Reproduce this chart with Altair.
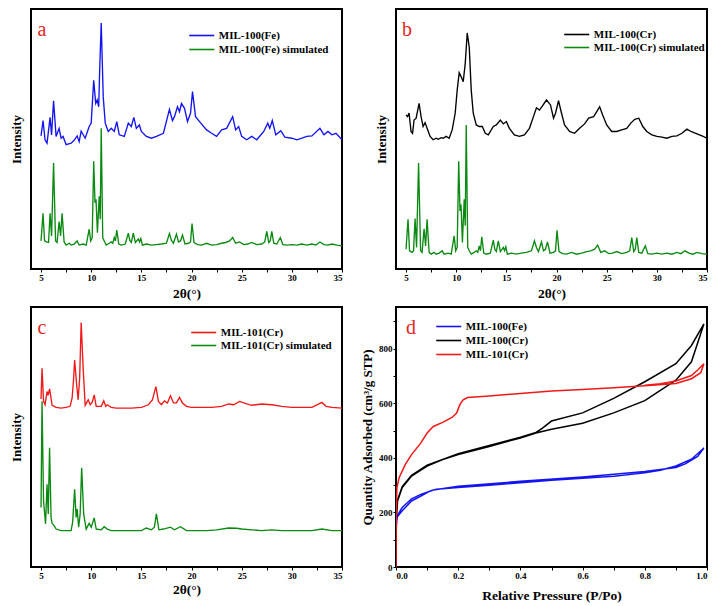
import altair as alt
import pandas as pd

# ---------------- data ----------------
fe_exp = [(5.0,51.2),(5.2,57.1),(5.4,49.7),(5.6,48.4),(5.9,58.3),(6.05,51.6),(6.25,64.7),(6.5,51.0),(6.8,54.1),(7.0,50.3),(7.2,51.0),(7.5,47.8),(8.0,48.4),(8.3,49.5),(8.6,51.2),(8.8,49.0),(9.0,53.0),(9.4,50.3),(9.8,54.8),(10.0,56.1),(10.25,72.6),(10.45,63.7),(10.6,65.0),(10.75,62.4),(10.85,77.1),(11.0,94.6),(11.2,66.2),(11.4,56.1),(11.7,52.9),(12.0,54.1),(12.3,52.9),(12.55,56.7),(12.8,51.6),(13.3,51.0),(13.7,56.1),(14.0,54.8),(14.25,58.3),(14.5,54.1),(14.8,55.4),(15.0,52.9),(15.5,51.0),(16.0,50.3),(16.5,51.0),(17.2,52.2),(17.8,61.4),(18.1,57.1),(18.3,58.6),(18.6,62.4),(18.8,60.5),(19.0,63.7),(19.3,61.8),(19.6,56.7),(19.9,59.9),(20.1,68.2),(20.4,58.6),(20.8,56.7),(21.5,53.5),(22.0,52.2),(22.5,51.0),(23.0,53.5),(23.5,54.1),(24.1,58.6),(24.4,53.5),(24.7,54.8),(25.0,51.0),(25.5,49.7),(26.0,51.0),(26.5,49.7),(27.2,52.9),(27.6,56.1),(27.8,54.1),(28.05,57.1),(28.4,51.6),(28.9,53.2),(29.3,50.7),(30.0,50.3),(30.5,49.7),(31.0,50.3),(31.5,51.0),(32.0,51.2),(32.8,54.1),(33.2,51.6),(33.6,52.9),(34.0,51.6),(34.4,52.2),(35.0,49.7)]

fe_sim = [(5.0,10.8),(5.2,21.4),(5.35,10.8),(5.55,10.4),(5.75,10.2),(5.9,21.4),(6.05,12.7),(6.25,40.8),(6.45,10.8),(6.6,10.2),(6.8,18.2),(6.95,12.7),(7.1,21.4),(7.3,10.4),(7.5,9.2),(7.8,9.9),(8.0,9.2),(8.3,9.6),(8.6,10.8),(8.8,9.2),(9.2,9.6),(9.5,9.2),(9.8,15.3),(9.95,10.8),(10.1,12.0),(10.25,41.4),(10.38,25.5),(10.48,26.8),(10.62,14.0),(10.8,28.0),(10.9,19.1),(11.0,54.1),(11.15,12.0),(11.3,10.8),(11.5,9.2),(11.8,9.9),(12.0,10.4),(12.15,9.9),(12.3,12.1),(12.42,10.8),(12.55,15.0),(12.75,9.6),(13.0,9.2),(13.4,9.6),(13.7,13.8),(13.85,11.0),(14.0,10.2),(14.2,13.8),(14.4,10.2),(14.7,11.5),(14.82,10.4),(14.95,11.7),(15.1,9.2),(15.5,9.6),(16.0,9.2),(16.5,9.4),(17.0,9.6),(17.5,9.9),(17.8,13.6),(18.0,11.0),(18.2,9.9),(18.5,13.4),(18.7,10.4),(18.9,10.8),(19.1,13.1),(19.35,9.6),(19.7,9.9),(19.9,10.4),(20.05,17.5),(20.25,10.2),(20.6,9.4),(21.0,9.2),(21.5,9.9),(22.0,9.2),(22.5,9.4),(23.0,9.9),(23.4,10.2),(23.8,10.8),(24.1,12.1),(24.4,9.9),(24.8,10.4),(25.2,9.4),(25.6,9.6),(26.0,10.2),(26.5,9.4),(27.0,9.6),(27.3,10.4),(27.5,14.5),(27.7,10.2),(27.85,10.8),(28.0,14.5),(28.2,9.9),(28.5,9.6),(28.85,12.1),(29.1,9.4),(29.5,9.2),(30.0,9.4),(30.5,9.2),(31.0,9.6),(31.5,9.2),(32.0,9.6),(32.4,9.2),(32.8,10.4),(33.2,9.4),(33.6,9.2),(34.0,9.6),(34.5,9.2),(35.0,8.9)]

cr_exp = [(5.0,59.2),(5.15,58.6),(5.3,60.0),(5.5,52.9),(5.65,52.2),(5.8,57.3),(6.0,57.9),(6.3,63.7),(6.5,58.6),(6.7,54.8),(6.9,56.3),(7.1,54.1),(7.4,51.0),(7.7,49.7),(8.0,50.3),(8.2,49.9),(8.5,50.5),(8.7,50.3),(9.0,51.0),(9.3,50.3),(9.6,53.5),(9.9,59.9),(10.1,68.8),(10.3,75.5),(10.5,73.9),(10.7,72.0),(10.9,79.0),(11.1,90.8),(11.3,85.4),(11.5,68.8),(11.7,59.9),(12.0,55.4),(12.3,54.8),(12.6,54.8),(12.9,52.2),(13.2,51.6),(13.7,54.8),(14.0,55.4),(14.4,57.3),(14.7,55.8),(15.0,56.7),(15.3,54.1),(15.8,51.6),(16.3,51.0),(16.8,51.6),(17.3,54.1),(17.7,58.6),(18.0,62.0),(18.3,61.1),(18.6,62.7),(19.0,65.0),(19.4,63.1),(19.7,58.0),(19.9,59.9),(20.2,64.7),(20.5,59.9),(20.8,55.4),(21.3,52.9),(21.8,52.2),(22.3,54.1),(22.8,55.8),(23.2,58.0),(23.7,58.6),(24.1,61.1),(24.3,62.4),(24.6,59.2),(25.0,55.4),(25.5,52.9),(26.0,52.9),(26.5,53.5),(27.0,54.1),(27.4,56.1),(27.8,57.6),(28.2,58.0),(28.6,54.8),(29.0,52.9),(29.5,51.6),(30.0,51.0),(30.5,50.7),(31.0,50.3),(31.5,51.0),(32.0,51.2),(32.5,52.2),(33.0,53.8),(33.4,52.9),(34.0,52.0),(34.5,51.2),(35.0,50.3)]

cr_sim = [(5.0,7.6),(5.2,19.1),(5.35,7.0),(5.6,6.4),(5.75,7.0),(5.9,19.4),(6.05,8.3),(6.25,40.8),(6.45,7.0),(6.6,6.4),(6.8,15.5),(6.95,8.9),(7.1,19.1),(7.3,6.4),(7.5,5.7),(7.8,6.4),(8.0,5.7),(8.3,6.1),(8.6,7.0),(8.8,5.7),(9.2,6.1),(9.5,5.7),(9.8,12.7),(9.95,7.0),(10.1,8.3),(10.25,41.4),(10.38,22.3),(10.48,24.8),(10.62,10.2),(10.8,26.8),(10.9,16.6),(11.0,55.4),(11.15,8.3),(11.3,7.0),(11.5,5.7),(11.8,6.4),(12.0,7.0),(12.15,6.4),(12.3,8.9),(12.42,7.0),(12.55,12.4),(12.75,6.1),(13.0,5.7),(13.4,6.1),(13.7,11.1),(13.85,7.6),(14.0,6.7),(14.2,10.8),(14.4,6.7),(14.7,8.3),(14.82,7.0),(14.95,8.5),(15.1,5.7),(15.5,6.1),(16.0,5.7),(16.5,6.1),(17.0,6.4),(17.5,7.0),(17.8,10.8),(18.0,8.3),(18.2,6.7),(18.5,10.4),(18.7,7.0),(18.9,7.6),(19.1,10.4),(19.35,6.1),(19.7,6.4),(19.9,7.0),(20.05,14.9),(20.25,6.7),(20.6,5.9),(21.0,5.7),(21.5,6.4),(22.0,5.7),(22.5,6.1),(23.0,6.7),(23.4,7.0),(23.8,7.6),(24.1,9.2),(24.4,6.4),(24.8,7.0),(25.2,5.9),(25.6,6.1),(26.0,6.7),(26.5,5.9),(27.0,6.4),(27.3,7.0),(27.5,12.1),(27.7,6.7),(27.85,7.6),(28.0,12.1),(28.2,6.4),(28.5,6.1),(28.85,8.9),(29.1,5.9),(29.5,5.7),(30.0,6.1),(30.5,5.7),(31.0,6.1),(31.5,5.7),(32.0,6.4),(32.4,5.9),(32.8,7.0),(33.2,6.1),(33.6,5.7),(34.0,6.4),(34.5,5.9),(35.0,5.7)]

cr101_exp = [(5.0,64.6),(5.1,76.4),(5.25,63.7),(5.4,62.4),(5.6,67.5),(5.7,66.0),(5.85,68.5),(5.95,66.2),(6.1,62.2),(6.5,61.4),(7.0,61.1),(7.5,61.4),(7.9,61.8),(8.1,65.0),(8.25,72.6),(8.35,79.6),(8.55,70.1),(8.7,64.3),(8.85,72.6),(9.0,94.0),(9.2,76.4),(9.4,62.2),(9.7,64.3),(9.9,62.4),(10.1,63.3),(10.3,66.2),(10.5,61.8),(11.0,61.8),(11.25,63.9),(11.45,61.8),(11.6,62.4),(12.0,61.4),(12.5,61.1),(13.0,61.1),(14.0,61.1),(15.0,61.4),(15.7,62.4),(16.1,64.3),(16.45,69.4),(16.7,63.7),(17.0,62.4),(17.3,63.9),(17.6,63.1),(17.9,65.9),(18.2,63.1),(18.5,63.1),(18.8,65.2),(19.1,63.1),(19.5,61.8),(20.0,61.4),(21.0,61.4),(22.0,61.4),(23.0,61.8),(23.7,62.7),(24.2,62.4),(24.8,63.7),(25.5,62.7),(26.0,62.2),(27.0,62.7),(28.0,62.4),(29.0,61.8),(30.0,61.4),(31.0,61.4),(32.0,61.4),(33.0,63.3),(33.4,61.8),(34.0,61.4),(35.0,61.1)]

cr101_sim = [(5.0,22.9),(5.1,63.7),(5.25,25.5),(5.45,16.6),(5.6,31.8),(5.72,20.4),(5.85,45.9),(6.0,19.1),(6.1,16.8),(6.3,15.9),(6.5,14.6),(7.0,14.0),(7.5,14.0),(8.0,14.0),(8.15,17.2),(8.35,29.9),(8.5,19.1),(8.6,22.3),(8.75,15.3),(8.9,20.4),(9.05,38.2),(9.25,20.4),(9.5,14.6),(9.8,16.8),(10.0,15.3),(10.3,18.9),(10.5,14.6),(11.0,14.3),(11.3,15.5),(11.6,14.6),(12.0,14.0),(13.0,14.0),(14.0,14.0),(15.0,14.0),(15.5,15.0),(16.0,14.3),(16.3,15.3),(16.5,20.4),(16.75,14.3),(17.2,14.6),(17.9,15.3),(18.3,14.3),(18.9,15.5),(19.5,14.0),(20.5,14.0),(21.5,14.0),(22.5,14.3),(23.7,15.0),(24.5,14.9),(25.0,14.6),(26.0,14.3),(27.0,14.0),(28.0,14.3),(29.0,14.0),(30.0,14.0),(31.0,14.0),(32.0,14.0),(33.0,14.6),(34.0,14.0),(35.0,14.0)]

# isotherms: adsorption branch followed by desorption branch
iso_fe = [(0,0),(0.001,145),(0.003,182),(0.02,206),(0.05,242),(0.08,260),(0.11,279),(0.13,285),(0.2,291),(0.3,300),(0.4,309),(0.5,318),(0.6,325),(0.7,333),(0.8,345),(0.85,355),(0.9,370),(0.95,395),(0.99,436),
          (0.97,405),(0.93,378),(0.9,365),(0.8,350),(0.6,330),(0.4,314),(0.2,296),(0.12,282),(0.08,266),(0.05,250),(0.02,218),(0.005,190),(0.001,160)]
iso_cr = [(0,0),(0.001,170),(0.005,242),(0.02,291),(0.05,333),(0.1,370),(0.15,394),(0.2,412),(0.3,442),(0.4,473),(0.45,491),(0.5,505),(0.6,527),(0.7,565),(0.8,610),(0.9,685),(0.95,752),(0.99,891),
          (0.95,812),(0.9,745),(0.8,679),(0.7,618),(0.6,565),(0.5,535),(0.47,508),(0.45,493),(0.4,476),(0.3,445),(0.2,415),(0.1,373),(0.05,336),(0.02,295),(0.005,246),(0.001,175)]
iso_cr101 = [(0,0),(0.001,200),(0.003,291),(0.01,327),(0.03,376),(0.05,412),(0.08,455),(0.1,491),(0.12,515),(0.15,530),(0.18,548),(0.195,564),(0.205,594),(0.215,612),(0.23,621),(0.3,627),(0.4,636),(0.5,645),(0.6,651),(0.7,657),(0.8,664),(0.9,673),(0.95,690),(0.98,712),(0.99,745),
             (0.97,722),(0.95,702),(0.9,682),(0.85,672),(0.8,666)]

xrd_ticks = [5, 7.5, 10, 12.5, 15, 17.5, 20, 22.5, 25, 27.5, 30, 32.5, 35]
p_ticks = [0.0, 0.1, 0.2, 0.3, 0.4, 0.5, 0.6, 0.7, 0.8, 0.9, 1.0]
q_ticks = [0, 100, 200, 300, 400, 500, 600, 700, 800, 900]

# ---------------- style ----------------
FONT = "Liberation Serif"
BLUE = "#1414f0"
GREEN = "#0b8a12"
BLACK = "#000000"
RED = "#f01818"
LABEL_RED = "#e52521"
W, H = 311, 260
# a flat line symbol twice as wide as its nominal size, so rows stay compact
LINE_SYMBOL = "M-2,0H2"
SYM_SIZE = 156.25  # sqrt -> 12.5 ; drawn line length 25


def to_df(series):
    rows = []
    for name, pts in series:
        for i, (x, y) in enumerate(pts):
            rows.append({"series": name, "x": x, "y": y, "i": i})
    return pd.DataFrame(rows)


def legend(line_start_x, ly, row_pad):
    return alt.Legend(orient="none", legendX=line_start_x + 6.25, legendY=ly, title=None,
                      symbolType=LINE_SYMBOL, symbolSize=SYM_SIZE, symbolStrokeWidth=1.6,
                      symbolFillColor="transparent",
                      labelFont=FONT, labelFontWeight="bold", labelFontSize=11,
                      labelColor="black", labelOffset=9.5, rowPadding=row_pad, padding=0)


def panel_label(letter, px, py):
    return alt.Chart(pd.DataFrame({"t": [letter]})).mark_text(
        font=FONT, fontSize=20, color=LABEL_RED, align="center", baseline="middle"
    ).encode(text="t:N", x=alt.value(px), y=alt.value(py))


def xrd_panel(exp_name, exp_pts, sim_name, sim_pts, exp_color, letter, lx, ly, row_pad, title_pad):
    df = to_df([(exp_name, exp_pts), (sim_name, sim_pts)])
    lines = alt.Chart(df).mark_line(strokeWidth=1.35, clip=True).encode(
        x=alt.X("x:Q", scale=alt.Scale(domain=[4, 35], nice=False, zero=False),
                axis=alt.Axis(values=xrd_ticks, title="2θ(°)", titleFontSize=13.5,
                              labelExpr="datum.value % 5 == 0 ? datum.label : ''",
                              labelFontSize=9, labelPadding=1, titlePadding=title_pad)),
        y=alt.Y("y:Q", scale=alt.Scale(domain=[0, 100], nice=False, zero=False),
                axis=alt.Axis(labels=False, ticks=False, title="Intensity",
                              titleFontSize=13, titlePadding=8)),
        color=alt.Color("series:N", sort=[exp_name, sim_name],
                        scale=alt.Scale(domain=[exp_name, sim_name], range=[exp_color, GREEN]),
                        legend=legend(lx, ly, row_pad)),
        order=alt.Order("i:Q"),
    )
    return alt.layer(lines, panel_label(letter, 11, 21)).properties(width=W, height=H)


pa = xrd_panel("MIL-100(Fe)", fe_exp, "MIL-100(Fe) simulated", fe_sim, BLUE, "a", 157, 19, 1, 4)
pb = xrd_panel("MIL-100(Cr)", cr_exp, "MIL-100(Cr) simulated", cr_sim, BLACK, "b", 167, 18, 0, 4)
pc = xrd_panel("MIL-101(Cr)", cr101_exp, "MIL-101(Cr) simulated", cr101_sim, RED, "c", 159, 18, 0, 2)

names_d = ["MIL-100(Fe)", "MIL-100(Cr)", "MIL-101(Cr)"]
df_d = to_df([(names_d[0], iso_fe), (names_d[1], iso_cr), (names_d[2], iso_cr101)])
lines_d = alt.Chart(df_d).mark_line(strokeWidth=1.5, clip=True).encode(
    x=alt.X("x:Q", scale=alt.Scale(domain=[0, 1], nice=False),
            axis=alt.Axis(values=p_ticks, format=".1f", title="Relative Pressure (P/Po)",
                          labelExpr="round(datum.value * 10) % 2 == 0 ? datum.label : ''",
                          labelFontSize=9, labelPadding=1, titleFontSize=13.5, titlePadding=8)),
    y=alt.Y("y:Q", scale=alt.Scale(domain=[0, 953], nice=False),
            axis=alt.Axis(values=q_ticks, title="Quantity Adsorbed (cm³/g STP)",
                          labelExpr="datum.value % 200 == 0 ? datum.label : ''",
                          labelFontSize=9, labelPadding=1, titleFontSize=13, titlePadding=4)),
    color=alt.Color("series:N", sort=names_d,
                    scale=alt.Scale(domain=names_d, range=[BLUE, BLACK, RED]),
                    legend=legend(39, 12, 1)),
    order=alt.Order("i:Q"),
)
pd_ = alt.layer(lines_d, panel_label("d", 15, 21)).properties(width=W, height=H)

chart = alt.concat(pa, pb, pc, pd_, columns=2, spacing={"row": 38, "column": 54},
                   bounds="flush").resolve_scale(
    color="independent", x="independent", y="independent"
).properties(
    padding={"left": 1, "top": 0, "right": 0, "bottom": 0}
).configure_view(
    stroke="black", strokeWidth=2
).configure_axis(
    labelFont=FONT, titleFont=FONT, labelFontWeight="bold", titleFontWeight="bold",
    labelColor="black", titleColor="black", tickColor="black", tickSize=3,
    grid=False, domain=False
)

chart.save("out.html", embed_options={"renderer": "svg", "actions": False})
